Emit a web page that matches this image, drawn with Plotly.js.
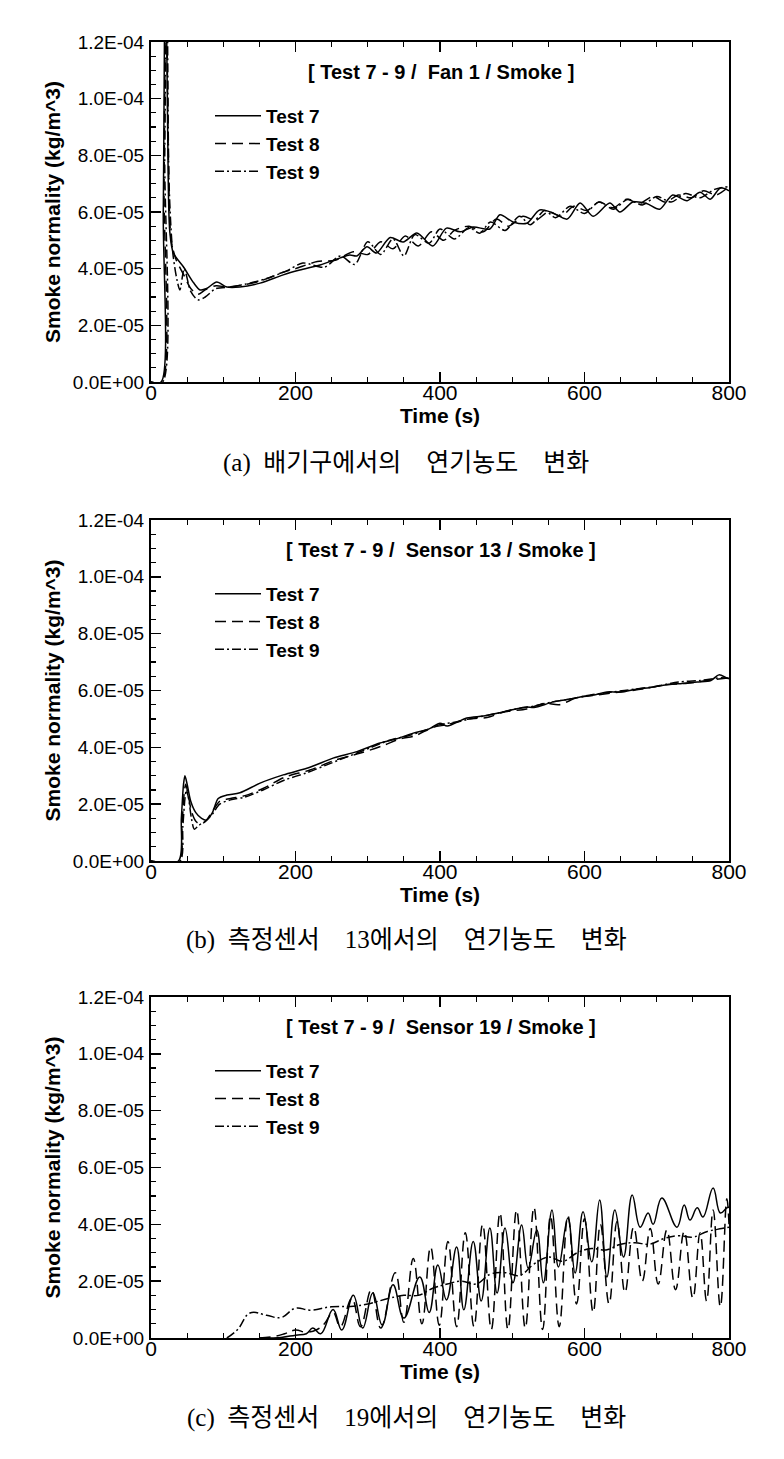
<!DOCTYPE html>
<html><head><meta charset="utf-8">
<script src="https://cdn.plot.ly/plotly-3.0.1.min.js"></script>
<style>html,body{margin:0;padding:0;background:#fff}#chart{width:784px;height:1459px}</style>
</head><body><div id="chart"></div>
<script>
// All smoke values are in units of 1E-05 kg/m^3 (axis labels carry the exponent)
// ---- (a) Fan 1 ----
const fanT7t = [0,14,17,20,23,26,31,45,59,68,77,91,105,123,151,183,206,234,262,275,285,299,312,331,349,368,390,409,428,446,469,483,501,520,538,557,576,594,612,635,649,667,686,704,722,742,760,774,788,800];
const fanT7v = [0,0,6,16,9,5.3,4.55,4.06,3.5,3.25,3.3,3.53,3.35,3.35,3.49,3.78,3.95,4.13,4.38,4.48,4.45,4.77,4.55,5.1,4.94,5.26,4.8,5.43,5.3,5.47,5.4,5.9,5.65,5.6,6.07,5.96,5.75,6.32,5.85,6.32,6.0,6.35,6.3,6.1,6.6,6.4,6.7,6.45,6.85,6.75];
const fanT8t = [0,15,18,21,24,28,35,45,55,65,75,90,105,120,150,180,200,230,255,280,300,318,335,352,370,388,405,420,440,460,478,495,515,532,550,568,585,603,620,640,658,676,695,712,730,748,765,782,800];
const fanT8v = [0,0,7,15,8,5.0,4.3,3.8,3.3,3.1,3.25,3.4,3.35,3.4,3.55,3.85,4.0,4.25,4.3,4.6,4.5,4.95,4.7,5.15,4.8,5.3,5.0,5.35,5.5,5.3,5.75,5.5,5.85,5.7,6.0,5.85,6.2,6.05,6.35,6.15,6.45,6.3,6.55,6.35,6.6,6.5,6.75,6.6,6.9];
const fanT9t = [0,16,19,22,25,30,36,40,46,55,65,75,90,110,130,160,190,210,240,262,282,300,318,335,350,365,385,400,420,440,455,470,490,510,525,545,560,580,600,620,640,660,680,700,720,740,760,780,800];
const fanT9v = [0,0,8,15,7,4.6,3.6,3.25,4.0,3.2,2.9,3.0,3.3,3.35,3.45,3.65,3.95,4.2,4.05,4.45,4.15,4.95,4.5,5.05,4.45,5.2,4.9,5.4,5.05,5.45,5.25,5.65,5.35,5.85,5.55,6.05,5.8,6.2,5.95,6.35,6.1,6.45,6.25,6.55,6.35,6.65,6.5,6.8,6.9];
// ---- (b) Sensor 13 ----
const s13T7t = [0,38,42,45,47,50,55,62,70,77,85,93,105,123,151,183,220,252,285,317,340,363,385,400,410,437,460,479,500,520,530,557,580,594,615,631,650,673,690,714,735,756,775,786,797,800];
const s13T7v = [0,0,1.5,2.7,3.0,2.7,2.1,1.7,1.5,1.44,1.7,2.2,2.32,2.4,2.74,3.03,3.3,3.62,3.85,4.15,4.3,4.5,4.65,4.85,4.75,5.03,5.1,5.2,5.32,5.42,5.4,5.6,5.7,5.77,5.85,5.95,5.95,6.05,6.1,6.2,6.25,6.3,6.35,6.55,6.44,6.42];
const s13T8t = [0,39,43,46,48,51,56,62,68,75,85,95,110,130,155,185,220,255,290,320,345,365,390,410,440,465,490,520,545,565,590,620,650,680,710,740,770,800];
const s13T8v = [0,0,1.3,2.4,2.7,2.4,1.75,1.4,1.3,1.38,1.75,2.1,2.2,2.3,2.55,2.95,3.2,3.55,3.8,4.05,4.3,4.4,4.7,4.8,5.0,5.05,5.25,5.35,5.55,5.5,5.75,5.85,5.95,6.05,6.2,6.25,6.35,6.45];
const s13T9t = [0,40,44,47,49,52,56,60,66,75,85,95,110,130,155,185,215,245,275,305,330,355,380,400,425,450,480,505,530,555,580,610,640,670,700,730,760,790,800];
const s13T9v = [0,0,1.2,2.2,2.5,2.2,1.5,1.12,1.25,1.4,1.65,2.0,2.15,2.25,2.5,2.85,3.1,3.4,3.7,4.0,4.25,4.4,4.6,4.8,4.9,5.05,5.2,5.35,5.45,5.6,5.7,5.85,5.95,6.05,6.15,6.3,6.35,6.45,6.42];
// ---- (c) Sensor 19 ----
const s19T7t = [150,180,200,215,224,235,252,264,280,293,307,320,335,350,372,385,397,409,423,433,446,457,469,479,490,501,513,522,534,543,555,564,577,587,598,610,621,631,642,654,666,677,688,695,707,728,738,746,756,764,778,788,797,800];
const s19T7v = [0,0.02,0.1,0.15,0.35,0.15,1.0,0.28,1.5,0.35,1.58,0.46,1.87,0.7,2.15,0.9,2.57,1.34,3.2,0.99,3.4,1.3,3.87,1.58,3.87,1.94,3.98,2.46,3.8,1.94,4.5,2.5,4.22,2.29,4.44,2.68,4.86,2.15,4.5,2.85,5.03,3.9,4.4,4.0,4.93,3.9,4.68,4.15,4.58,4.26,5.28,4.4,4.58,4.6];
const s19T8t = [150,170,185,200,215,230,240,252,262,278,290,305,318,338,350,363,375,387,399,411,423,435,447,459,471,483,494,506,518,530,542,553,565,577,589,600,612,622,634,645,656,668,680,691,702,714,726,738,750,760,769,778,788,797,800];
const s19T8v = [0,0.05,0.15,0.28,0.2,0.3,0.5,0.9,0.4,1.4,0.4,1.7,0.35,2.3,0.55,2.8,0.5,3.2,0.45,3.4,0.4,3.7,0.4,4.0,0.3,4.4,0.3,4.5,0.35,4.6,0.3,4.3,0.4,4.3,1.2,4.2,0.9,4.0,1.2,4.1,1.6,3.9,2.0,3.85,1.9,3.8,1.7,3.75,1.4,3.7,1.3,4.5,1.1,4.9,4.0];
const s19T9t = [105,120,137,160,180,200,220,250,280,300,330,350,370,390,410,430,450,470,490,510,530,550,570,590,610,630,650,670,690,710,730,750,770,790,800];
const s19T9v = [0,0.3,0.88,0.8,0.72,1.05,0.98,1.1,1.12,1.2,1.4,1.5,1.5,1.75,1.9,2.0,1.9,2.25,2.3,2.2,2.6,2.85,2.7,3.0,3.15,3.1,3.3,3.35,3.3,3.5,3.6,3.55,3.75,3.85,3.9];

const seriesNames = ["Test 7","Test 8","Test 9"];
const yTickVals = [0,2,4,6,8,10,12];
const yTickText = ["0.0E+00","2.0E-05","4.0E-05","6.0E-05","8.0E-05","1.0E-04","1.2E-04"];
const yMinorVals = [0.5,1,1.5,2.5,3,3.5,4.5,5,5.5,6.5,7,7.5,8.5,9,9.5,10.5,11,11.5];
const xTickVals = [0,200,400,600,800];
const xTickText = ["0","200","400","600","800"];
const xMinorVals = [50,100,150,250,300,350,450,500,550,650,700,750];
const panelTitles = ["[ Test 7 - 9 /\u00a0 Fan 1 / Smoke ]","[ Test 7 - 9 /\u00a0 Sensor 13 / Smoke ]","[ Test 7 - 9 /\u00a0 Sensor 19 / Smoke ]"];
const captions = ["(a)\u00a0 배기구에서의\u00a0\u00a0\u00a0 연기농도\u00a0\u00a0\u00a0 변화","(b)\u00a0 측정센서\u00a0\u00a0\u00a0 13에서의\u00a0\u00a0\u00a0 연기농도\u00a0\u00a0\u00a0 변화","(c)\u00a0 측정센서\u00a0\u00a0\u00a0 19에서의\u00a0\u00a0\u00a0 연기농도\u00a0\u00a0\u00a0 변화"];
const xTitle = "Time (s)";
const yTitle = "Smoke normality (kg/m^3)";

const data = [
  [[fanT7t,fanT7v],[fanT8t,fanT8v],[fanT9t,fanT9v]],
  [[s13T7t,s13T7v],[s13T8t,s13T8v],[s13T9t,s13T9v]],
  [[s19T7t,s19T7v],[s19T8t,s19T8v],[s19T9t,s19T9v]]
];

const W = 784, H = 1459;
const px = v => v / W, py = v => 1 - v / H;
const SANS = "Liberation Sans, Arial, sans-serif";
const panels = [{top:42,bottom:382,leg:97,cap:463},{top:520,bottom:861,leg:575,cap:940},{top:997,bottom:1338,leg:1052,cap:1418}];
const dashes = ["solid","11px,6px","9px,3px,2px,3px"];
const smooth = [0.8, 0.8, 1.2];

const traces = [];
const layout = {
  width: W, height: H, paper_bgcolor: "#fff", plot_bgcolor: "#fff",
  margin: {l:0,r:0,t:0,b:0}, showlegend: true,
  font: {family: SANS, color: "#000"},
  annotations: []
};

panels.forEach((p, i) => {
  const n = i === 0 ? "" : String(i + 1);
  data[i].forEach((s, j) => {
    traces.push({
      x: s[0], y: s[1], type: "scatter", mode: "lines",
      xaxis: "x" + n, yaxis: "y" + n, name: seriesNames[j],
      legend: "legend" + n,
      line: {color: "#000", width: 1.5, dash: dashes[j], shape: "spline", smoothing: smooth[i]}
    });
  });
  layout["xaxis" + n] = {
    domain: [px(151), px(729)], anchor: "y" + n, range: [0, 800],
    tickmode: "array", tickvals: xTickVals, ticktext: xTickText,
    ticks: "inside", ticklen: 10, tickwidth: 1.5, tickcolor: "#000",
    minor: {tickmode: "array", tickvals: xMinorVals, ticks: "inside", ticklen: 5, tickwidth: 1.2, tickcolor: "#000"},
    showline: true, linewidth: 2, linecolor: "#000", mirror: "ticks",
    showgrid: false, zeroline: false, ticklabelstandoff: -9,
    tickfont: {family: SANS, size: 21, color: "#000"},
    title: {text: xTitle, font: {family: SANS, size: 21, weight: "bold", color: "#000"}, standoff: 0}
  };
  layout["yaxis" + n] = {
    domain: [py(p.bottom), py(p.top)], anchor: "x" + n, range: [0, 12],
    tickmode: "array", tickvals: yTickVals, ticktext: yTickText,
    ticks: "inside", ticklen: 10, tickwidth: 1.5, tickcolor: "#000",
    minor: {tickmode: "array", tickvals: yMinorVals, ticks: "inside", ticklen: 5, tickwidth: 1.2, tickcolor: "#000"},
    showline: true, linewidth: 2, linecolor: "#000", mirror: true,
    showgrid: false, zeroline: false, ticklabelstandoff: 1,
    tickfont: {family: SANS, size: 19, color: "#000"},
    title: {text: yTitle, font: {family: SANS, size: 21, weight: "bold", color: "#000"}, standoff: 7}
  };
  layout["legend" + n] = {
    x: px(210), y: py(p.leg), xanchor: "left", yanchor: "top",
    bgcolor: "rgba(0,0,0,0)", borderwidth: 0, itemwidth: 46,
    font: {family: SANS, size: 19, weight: "bold", color: "#000"}
  };
  layout.annotations.push({
    xref: "paper", yref: "paper", x: px(441), y: py(p.top + 30), xanchor: "center", yanchor: "middle",
    text: panelTitles[i], showarrow: false,
    font: {family: SANS, size: 20, weight: "bold", color: "#000"}
  });
  layout.annotations.push({
    xref: "paper", yref: "paper", x: px(406), y: py(p.cap), xanchor: "center", yanchor: "middle",
    text: captions[i], showarrow: false,
    font: {family: "Liberation Serif, Noto Sans CJK KR, serif", size: 25, color: "#000"}
  });
});

Plotly.newPlot("chart", traces, layout, {displayModeBar: false, staticPlot: true});
</script></body></html>
